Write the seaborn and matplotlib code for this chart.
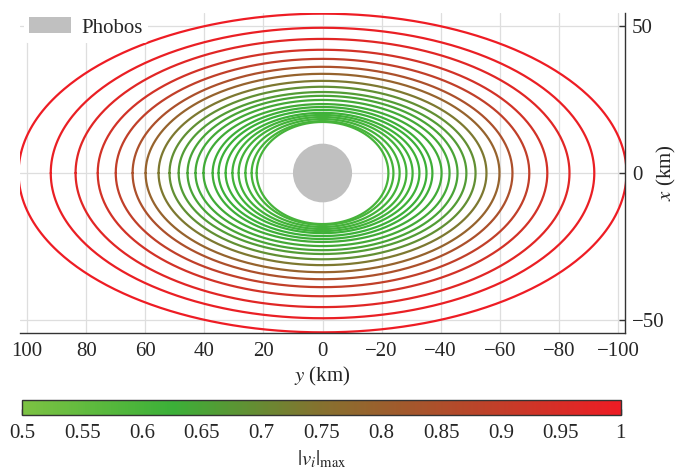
import numpy as np
import pandas as pd
import matplotlib
matplotlib.use("Agg")
import matplotlib.pyplot as plt
from matplotlib.colors import LinearSegmentedColormap, Normalize
from matplotlib.patches import Ellipse, Patch
import seaborn as sns

# ---- data ----
semi_y_km = [102.9, 92.0, 83.6, 76.1, 70.0, 64.3, 59.9, 55.5, 51.8, 48.7, 45.7,
             43.0, 40.3, 37.2, 35.2, 32.8, 30.5, 28.4, 26.1, 24.0, 22.3]
semi_x_km = [54.3, 49.5, 45.7, 42.0, 38.9, 36.2, 33.8, 31.4, 29.4, 27.6, 26.3,
             24.9, 23.5, 22.5, 21.5, 20.5, 19.8, 19.1, 18.4, 17.7, 17.4]
vmax_vals = [1.0, 0.99, 0.97, 0.935, 0.895, 0.845, 0.79, 0.735, 0.69, 0.665, 0.65,
             0.64, 0.635, 0.63, 0.625, 0.62, 0.615, 0.61, 0.61, 0.605, 0.605]
phobos_radius_km = 10.0
y_ticks = [100, 80, 60, 40, 20, 0, -20, -40, -60, -80, -100]
x_ticks = [50, 0, -50]
cbar_ticks = [0.5, 0.55, 0.6, 0.65, 0.7, 0.75, 0.8, 0.85, 0.9, 0.95, 1.0]

sns.set_style("white")
plt.rcParams["font.family"] = ["Liberation Serif", "DejaVu Serif"]
plt.rcParams["mathtext.fontset"] = "stix"

cmap = LinearSegmentedColormap.from_list(
    "gr", [(0.0, "#7cc243"), (0.25, "#3bb038"), (0.5, "#86712f"),
           (0.75, "#b8462a"), (1.0, "#ee1c24")])
norm = Normalize(0.5, 1.0)

theta = np.linspace(0, 2 * np.pi, 500)
rows = []
for i, (a, b) in enumerate(zip(semi_y_km, semi_x_km)):
    rows.append(pd.DataFrame({"y": a * np.cos(theta), "x": b * np.sin(theta),
                              "orbit": i}))
df = pd.concat(rows, ignore_index=True)
palette = {i: cmap(norm(v)) for i, v in enumerate(vmax_vals)}

FS = 15
fig = plt.figure(figsize=(6.79, 4.74), dpi=100)
ax = fig.add_axes([0.0295, 0.297, 0.891, 0.676])

ax.grid(True, color="#dedede", lw=0.9)
ax.set_axisbelow(True)
sns.lineplot(data=df, x="y", y="x", hue="orbit", palette=palette, sort=False,
             estimator=None, legend=False, lw=1.6, ax=ax)

ax.add_patch(Ellipse((0, 0), 2 * phobos_radius_km, 2 * phobos_radius_km,
                     facecolor="#c0c0c0", edgecolor="none", zorder=5))

ax.set_xlim(102.4, -102.4)
ax.set_ylim(-54.6, 54.6)
ax.set_xticks(y_ticks)
ax.set_yticks(x_ticks)
ax.yaxis.tick_right()
ax.yaxis.set_label_position("right")
for s in ["left", "top"]:
    ax.spines[s].set_visible(False)
for s in ["bottom", "right"]:
    ax.spines[s].set_color("#333333")
    ax.spines[s].set_linewidth(1.0)
ax.tick_params(axis="both", direction="in", length=4, width=1, color="#333333",
               labelsize=FS, pad=5)
ax.tick_params(axis="x", pad=6)
ax.set_xlabel(r"$y$ (km)", fontsize=FS, labelpad=3)
ax.set_ylabel(r"$x$ (km)", fontsize=FS)
ax.yaxis.set_label_coords(1.05, 0.5)

leg = ax.legend(handles=[Patch(facecolor="#c0c0c0", edgecolor="none", label="Phobos")],
                loc="upper left", bbox_to_anchor=(0.0, 1.015), frameon=True,
                fontsize=FS, handlelength=2.0, handleheight=0.8, handletextpad=0.5,
                borderaxespad=0.2, borderpad=0.25)
leg.get_frame().set_facecolor("white")
leg.get_frame().set_edgecolor("none")
leg.get_frame().set_alpha(1)
leg.set_zorder(10)

cax = fig.add_axes([0.033, 0.125, 0.881, 0.032])
sm = plt.cm.ScalarMappable(norm=norm, cmap=cmap)
cb = fig.colorbar(sm, cax=cax, orientation="horizontal", ticks=cbar_ticks)
cb.ax.set_xticklabels([f"{t:g}" for t in cbar_ticks])
cb.ax.tick_params(direction="in", length=4, width=1, color="#333333",
                  labelsize=FS, pad=7)
cb.outline.set_edgecolor("#333333")
cb.outline.set_linewidth(1.0)
cb.set_label(r"$|v_i|_{\max}$", fontsize=FS, labelpad=4)

fig.savefig("out.png", dpi=100)
